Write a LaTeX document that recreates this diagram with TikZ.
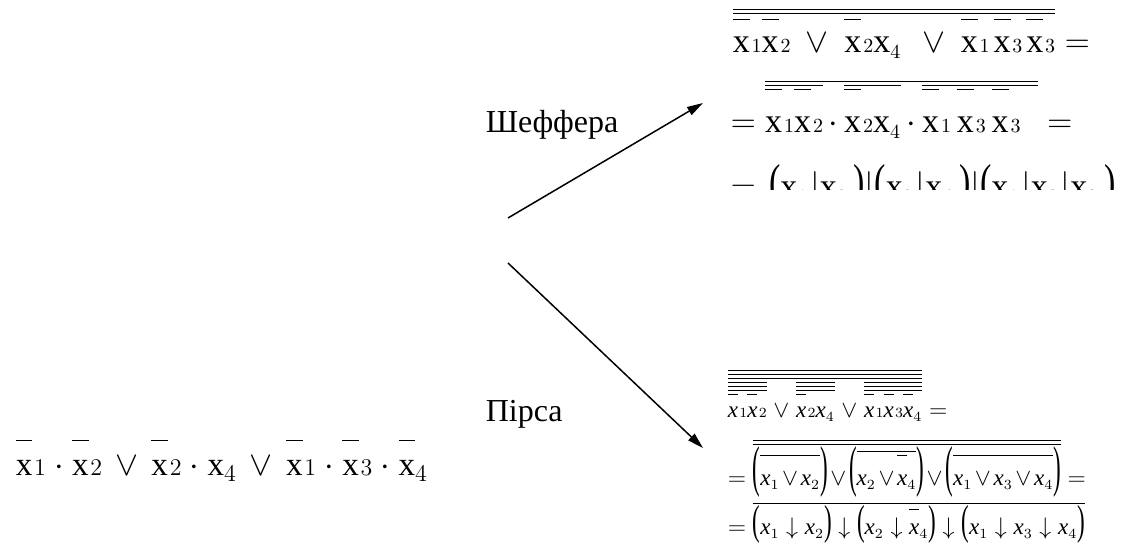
\documentclass[tikz,border=0pt]{standalone}
\usepackage{graphicx}
\usepackage{fontspec}
\setmainfont{Liberation Serif}
\usetikzlibrary{arrows.meta}
\DeclareMathSizes{16.5}{16.5}{12.4}{9}
\DeclareMathSizes{17}{17}{10}{8}
\DeclareMathSizes{11.5}{11.5}{7}{5.5}
\newlength\barh
\setlength\barh{15pt}
% index digit: on the base line, 4 set lower
\newcommand{\dg}[1]{\ifnum#1=4 _{#1}\else\mkern1mu{\scriptstyle#1}\fi}
% x with and without a bar, upright and italic
\newcommand{\vxr}[1]{\mathrm{x}\dg{#1}}
\newcommand{\vxn}[1]{\overline{\rule{0pt}{\barh}\mathrm{x}}\dg{#1}}
\newcommand{\vxs}[1]{\mathrm{x}_{#1}}
\newcommand{\vxb}[1]{\textit{x}\dg{#1}}
\newcommand{\vxbn}[1]{\overline{\rule{0pt}{\barh}\textit{x}}\dg{#1}}
\newcommand{\vxi}[1]{\textit{x}_{#1}}
\newcommand{\vxin}[1]{\overline{\rule{0pt}{\barh}\textit{x}}_{#1}}
\newcommand{\orw}{\mskip2.5mu\vee\mskip2.5mu}
% stretched brackets
\newcommand{\brl}[1]{\scalebox{1}[#1]{\upshape(}}
\newcommand{\brr}[1]{\scalebox{1}[#1]{\upshape)}}
\begin{document}
\begin{tikzpicture}[x=0.5pt,y=-0.5pt,line width=0.75pt,
  every node/.style={inner sep=0pt,anchor=base west},
  fleft/.style={font=\fontsize{16.5}{19}\selectfont},
  fbig/.style={font=\fontsize{17}{20}\selectfont},
  fsmall/.style={font=\fontsize{11.5}{14}\selectfont\itshape},
  flbl/.style={font=\fontsize{16}{19}\selectfont},
  arr/.style={-{Triangle[length=8pt,width=4.5pt]}}]
\useasboundingbox (0,0) rectangle (1121,544);
\coordinate (O1) at (508,218);
\coordinate (O2) at (508,263);
\coordinate (S) at (703,103);
\coordinate (P) at (703,448);
\node[fleft] (f) at (15,476) {\setlength\barh{16.6pt}$\medmuskip=4.3mu \vxn{1}\cdot\vxn{2}\orw\vxn{2}\cdot\vxr{4}\orw\vxn{1}\cdot\vxn{3}\cdot\vxn{4}$};
\draw[arr] (O1) -- (S);
\draw[arr] (O2) -- (P);
\node[flbl] (sh) at (485,133) {Шеффера};
\node[flbl] (pi) at (485,422) {Пірса};
% Sheffer
\begin{scope}
\clip (700,0) rectangle (1121,190);
\node[fbig] (sh1) at (732,53) {\setlength\barh{15.5pt}$\medmuskip=8mu \overline{\overline{\rule{0pt}{18.5pt}\vxn{1}\vxn{2}\vee\vxn{2}\vxr{4}\mkern3mu\vee\vxn{1}\mkern2mu\vxn{3}\mkern2mu\vxn{3}}}=$};
\node[fbig] (sh2) at (730,133) {\setlength\barh{20.5pt}$\medmuskip=3mu =\overline{\overline{\vxn{1}\vxn{2}}\cdot\overline{\vxn{2}\vxr{4}}\cdot\overline{\vxn{1}\mkern3mu\vxn{3}\mkern3mu\vxn{3}\mkern9mu}}=$};
\node[fbig] (sh3) at (730,198) {$=\mkern2mu\brl{1.4}\vxs{1}\mkern1mu|\vxs{2}\mkern3mu\brr{1.4}|\brl{1.4}\vxs{2}\mkern1mu|\vxs{4}\mkern3mu\brr{1.4}|\brl{1.4}\vxs{1}\mkern1mu|\vxs{3}\mkern1mu|\vxs{3}\mkern3mu\brr{1.4}$};
\end{scope}
% Pierce
\node[fsmall] (pi1) at (727,418) {\setlength\barh{10.6pt}$\medmuskip=5mu \overline{\overline{\overline{\rule{0pt}{17.8pt}\overline{\overline{\overline{\vxbn{1}\vxbn{2}}}}\vee\overline{\overline{\overline{\vxbn{2}\vxb{4}}}}\vee\overline{\overline{\overline{\vxbn{1}\vxbn{3}\vxbn{4}}}}}}}=$};
\node[fsmall] (pi2) at (727,486) {\setlength\barh{14pt}$\medmuskip=2mu =\overline{\overline{\brl{2.44}\overline{\rule{0pt}{\barh}\vxi{1}\vee\vxi{2}}\brr{2.44}\vee\brl{2.44}\overline{\vxi{2}\vee\vxin{4}}\brr{2.44}\vee\brl{2.44}\overline{\rule{0pt}{\barh}\vxi{1}\vee\vxi{3}\vee\vxi{4}}\brr{2.44}}}=$};
\node[fsmall] (pi3) at (727,535) {\setlength\barh{11.6pt}$\thickmuskip=5mu =\overline{\brl{1.82}\vxi{1}\downarrow\vxi{2}\brr{1.82}\downarrow\brl{1.82}\vxi{2}\downarrow\vxin{4}\brr{1.82}\downarrow\brl{1.82}\vxi{1}\downarrow\vxi{3}\downarrow\vxi{4}\brr{1.82}}$};
\end{tikzpicture}
\end{document}
